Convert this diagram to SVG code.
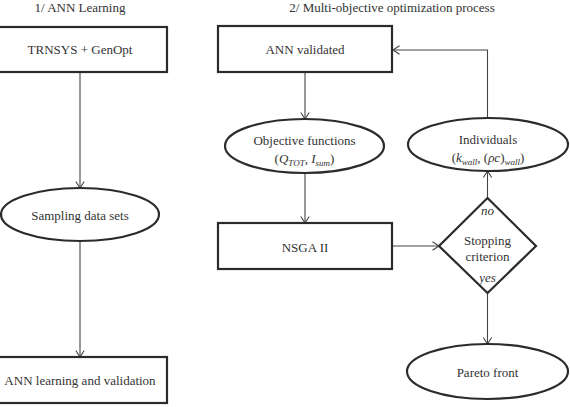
<svg xmlns="http://www.w3.org/2000/svg" width="570" height="407" viewBox="0 0 570 407">
<defs>
<marker id="arr" markerWidth="8" markerHeight="10" refX="7" refY="5" orient="auto" markerUnits="userSpaceOnUse">
<path d="M0.5,0.8 L7,5 L0.5,9.2" fill="none" stroke="#444" stroke-width="1.1"/>
</marker>
</defs>
<style>
.box{fill:#fff;stroke:#2b2b2b;stroke-width:2.2}
text{font-family:'Liberation Serif','Times New Roman',serif;font-size:13px;fill:#333;text-anchor:middle}
.i{font-style:italic}
.s{font-size:9px;font-style:italic}
.c{fill:none;stroke:#444;stroke-width:1.1}
</style>
<rect width="570" height="407" fill="#fff"/>
<text x="80" y="12">1/ ANN Learning</text>
<text x="392" y="12">2/ Multi-objective optimization process</text>
<g id="connectors">
<line class="c" x1="80" y1="72" x2="80" y2="188" marker-end="url(#arr)"/>
<line class="c" x1="80" y1="241" x2="80" y2="357" marker-end="url(#arr)"/>
<line class="c" x1="305" y1="72" x2="305" y2="119" marker-end="url(#arr)"/>
<line class="c" x1="305" y1="173" x2="305" y2="223" marker-end="url(#arr)"/>
<line class="c" x1="392" y1="246" x2="439" y2="246" marker-end="url(#arr)"/>
<line class="c" x1="487.5" y1="198" x2="487.5" y2="171" marker-end="url(#arr)"/>
<polyline class="c" points="487.5,118 487.5,50 393,50" marker-end="url(#arr)"/>
<line class="c" x1="487.5" y1="293" x2="487.5" y2="344" marker-end="url(#arr)"/>
</g>
<g id="trnsys">
<rect class="box" x="-7" y="27" width="174" height="45"/>
<text x="80" y="54">TRNSYS + GenOpt</text>
</g>
<g id="sampling">
<ellipse class="box" cx="80" cy="214.5" rx="79" ry="26.5"/>
<text x="80" y="220">Sampling data sets</text>
</g>
<g id="annlearning">
<rect class="box" x="-7" y="357" width="174" height="46"/>
<text x="80" y="385">ANN learning and validation</text>
</g>
<g id="annvalidated">
<rect class="box" x="218" y="26" width="174" height="46"/>
<text x="305" y="54">ANN validated</text>
</g>
<g id="objective">
<ellipse class="box" cx="304.5" cy="146" rx="79.5" ry="27"/>
<text x="304.5" y="145">Objective functions</text>
<text x="304.5" y="163">(<tspan class="i">Q</tspan><tspan class="s" dy="3">TOT</tspan><tspan dy="-3">, </tspan><tspan class="i">I</tspan><tspan class="s" dy="3">sum</tspan><tspan dy="-3">)</tspan></text>
</g>
<g id="nsga">
<rect class="box" x="218" y="223" width="174" height="46"/>
<text x="305" y="252">NSGA II</text>
</g>
<g id="stopping">
<polygon class="box" points="487.5,198 536,246 487.5,293 439,246"/>
<text class="i" x="487.5" y="215">no</text>
<text x="487.5" y="245">Stopping</text>
<text x="487.5" y="261">criterion</text>
<text class="i" x="487.5" y="282">yes</text>
</g>
<g id="individuals">
<ellipse class="box" cx="488" cy="144.5" rx="80" ry="26.5"/>
<text x="488" y="144">Individuals</text>
<text x="488" y="162">(<tspan class="i">k</tspan><tspan class="s" dy="3">wall</tspan><tspan dy="-3">, (</tspan><tspan class="i">ρc</tspan>)<tspan class="s" dy="3">wall</tspan><tspan dy="-3">)</tspan></text>
</g>
<g id="pareto">
<ellipse class="box" cx="487.5" cy="371.5" rx="80.5" ry="27.5"/>
<text x="487.5" y="377">Pareto front</text>
</g>
</svg>
